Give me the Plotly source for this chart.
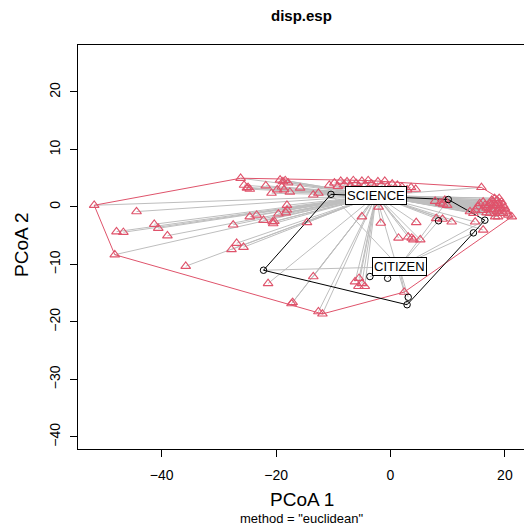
import plotly.graph_objects as go

# PCoA scores (axis 1, axis 2) per group
sci_x = [
    -51.8, -44.4, -47.9, -46.7, -41.3, -40.6, -39.0, -48.2, -35.8,
    -27.8, -26.9, -25.7, -27.5, -24.6, -23.4, -22.2, -20.6, -20.3, -20.5, -19.6, -18.1, -18.1, -18.3, -14.6,
    -26.2, -25.6, -24.9, -25.1, -24.6, -21.8, -20.8, -19.3, -18.8, -18.4, -17.9, -19.0, -19.8, -17.6, -18.6, -15.8, -13.5, -12.6, -10.7,
    -9.8, -9.2, -8.7, -8.1, -7.6, -7.0, -6.5, -6.0, -5.5, -5.0, -4.4, -3.9, -3.3, -2.8, -2.2, -1.6, -1.0, -0.5, 0.3, 1.2, 2.0, 2.9, 3.6, 4.4,
    -5.0, -2.1, -1.7,
    4.5, 8.0, 9.1, 10.7, 1.4, 3.1, 3.7, 4.0, 5.2, 7.8, 8.7, 9.2, 9.5, 9.9,
    13.9, 14.5, 14.8, 15.3, 15.6, 16.2, 16.5, 16.8, 17.4, 17.7, 18.0, 18.3, 18.6, 18.8, 19.1, 19.4, 19.7, 20.0, 20.3, 20.6,
    18.6, 18.0, 17.4, 16.8, 19.1, 19.7, 18.3, 18.8, 21.2, 15.9, 14.8, 16.2,
    17.0, 17.9, 18.9, 19.5, 17.6, 18.2, 19.0, 16.0,
    -21.4, -13.5, -17.3, -17.1, -12.6, -11.9, -6.2, -5.5, -5.0, -5.6, -4.5, 2.4,
]
sci_y = [
    0.3, -0.8, -4.3, -4.4, -3.0, -3.7, -5.0, -8.3, -10.3,
    -7.4, -6.3, -7.0, -3.1, -1.7, -1.4, -2.3, -2.6, -2.5, -2.9, -1.2, 0.3, -0.5, -1.0, -2.7,
    5.0, 3.8, 3.4, 3.3, 3.1, 3.7, 2.4, 4.7, 4.4, 4.6, 4.2, 3.5, 3.0, 2.6, 3.0, 3.3, 2.1, 2.4, 3.8,
    4.2, 3.6, 4.5, 3.9, 4.4, 3.7, 4.6, 4.1, 3.6, 4.5, 3.9, 4.6, 4.0, 3.5, 4.4, 3.8, 4.5, 3.6, 4.0, 3.8, 3.5, 3.0, 3.4, 3.1,
    -1.7, 0.0, -2.8,
    -2.7, -2.0, -2.1, -2.6, -5.4, -5.2, -5.4, -5.7, -5.7, 1.0, 0.7, 0.5, 1.2, 0.3,
    -0.8, -1.1, -0.5, 0.05, 0.6, 0.9, 0.3, -0.2, 0.6, 1.2, 0.9, 0.3, 1.2, 0.6, 0.05, 0.9, 0.3, -0.2, -0.8, -1.4,
    -0.8, -0.5, -1.1, -1.0, -1.1, -1.1, -1.7, -1.7, -1.7, 3.4, -2.6, -4.0,
    0.0, 0.2, -0.3, -0.5, -0.4, 1.5, 1.5, -0.6,
    -13.3, -12.1, -16.8, -16.6, -18.2, -18.6, -13.0, -12.4, -13.3, -13.8, -13.8, -14.8,
]
cit_x = [-22.2, -10.4, 10.1, 8.4, 16.5, 14.5, 3.1, 2.9, -3.6, -0.5]
cit_y = [-11.0, 2.2, 1.3, -2.4, -2.3, -4.5, -15.7, -17.0, -12.1, -12.4]

# group centroids (spatial medians)
groups = ["SCIENCE", "CITIZEN"]
cent_x = [-2.5, 1.5]
cent_y = [2.0, -10.4]

RED = "#DF536B"
GREY = "#BEBEBE"
FONT = "Liberation Sans, Arial, Helvetica, sans-serif"


def convex_hull(xs, ys):
    pts = sorted(set(zip(xs, ys)))

    def cross(o, a, b):
        return (a[0] - o[0]) * (b[1] - o[1]) - (a[1] - o[1]) * (b[0] - o[0])

    lower, upper = [], []
    for p in pts:
        while len(lower) >= 2 and cross(lower[-2], lower[-1], p) <= 0:
            lower.pop()
        lower.append(p)
    for p in reversed(pts):
        while len(upper) >= 2 and cross(upper[-2], upper[-1], p) <= 0:
            upper.pop()
        upper.append(p)
    hull = lower[:-1] + upper[:-1]
    hull.append(hull[0])
    return [p[0] for p in hull], [p[1] for p in hull]


def spokes(xs, ys, cx, cy):
    sx, sy = [], []
    for x, y in zip(xs, ys):
        sx += [x, cx, None]
        sy += [y, cy, None]
    return sx, sy


fig = go.Figure()

# segments from each site to its group centroid
for xs, ys, cx, cy in [(sci_x, sci_y, cent_x[0], cent_y[0]), (cit_x, cit_y, cent_x[1], cent_y[1])]:
    sx, sy = spokes(xs, ys, cx, cy)
    fig.add_trace(go.Scatter(x=sx, y=sy, mode="lines",
                             line=dict(color=GREY, width=1), hoverinfo="skip"))

# convex hulls
for xs, ys, col in [(sci_x, sci_y, RED), (cit_x, cit_y, "black")]:
    hx, hy = convex_hull(xs, ys)
    fig.add_trace(go.Scatter(x=hx, y=hy, mode="lines",
                             line=dict(color=col, width=1), hoverinfo="skip"))

# sites
fig.add_trace(go.Scatter(x=sci_x, y=sci_y, mode="markers",
                         marker=dict(symbol="triangle-up-open", size=8.5, color=RED,
                                     line=dict(color=RED, width=1.1))))
fig.add_trace(go.Scatter(x=cit_x, y=cit_y, mode="markers",
                         marker=dict(symbol="circle-open", size=6.5, color="black",
                                     line=dict(color="black", width=1))))

annotations = []
for g, cx, cy in zip(groups, cent_x, cent_y):
    annotations.append(dict(x=cx, y=cy, xref="x", yref="y", text=g, showarrow=False,
                            font=dict(family=FONT, size=13, color="black"),
                            bgcolor="white", bordercolor="black", borderwidth=1, borderpad=1))

annotations += [
    dict(text="<b>disp.esp</b>", x=0.502, y=1.074, xref="paper", yref="paper",
         showarrow=False, xanchor="center", yanchor="middle",
         font=dict(family=FONT, size=15, color="black")),
    dict(text="PCoA 1", x=0.502, y=-0.126, xref="paper", yref="paper",
         showarrow=False, xanchor="center", yanchor="middle",
         font=dict(family=FONT, size=19, color="black")),
    dict(text='method = "euclidean"', x=0.502, y=-0.173, xref="paper", yref="paper",
         showarrow=False, xanchor="center", yanchor="middle",
         font=dict(family=FONT, size=13, color="black")),
    dict(text="PCoA 2", x=-0.1256, y=0.505, xref="paper", yref="paper",
         showarrow=False, xanchor="center", yanchor="middle", textangle=-90,
         font=dict(family=FONT, size=19, color="black")),
]

fig.update_layout(
    width=524, height=528,
    margin=dict(l=78, r=0, t=45, b=79, autoexpand=False),
    paper_bgcolor="white", plot_bgcolor="white",
    showlegend=False,
    annotations=annotations,
    font=dict(family=FONT, color="black"),
)
fig.update_xaxes(range=[-54.63, 23.34], tickvals=[-40, -20, 0, 20],
                 showgrid=False, zeroline=False,
                 showline=True, linecolor="black", linewidth=1, mirror=True,
                 ticks="outside", ticklen=7, tickcolor="black", tickwidth=1,
                 ticklabelstandoff=6,
                 tickfont=dict(family=FONT, size=14, color="black"))
fig.update_yaxes(range=[-42.09, 28.17], tickvals=[-40, -30, -20, -10, 0, 10, 20],
                 showgrid=False, zeroline=False,
                 showline=True, linecolor="black", linewidth=1, mirror=False,
                 ticks="outside", ticklen=7, tickcolor="black", tickwidth=1,
                 tickangle=-90, ticklabelstandoff=4,
                 tickfont=dict(family=FONT, size=14, color="black"))

fig.write_html("out.html")
